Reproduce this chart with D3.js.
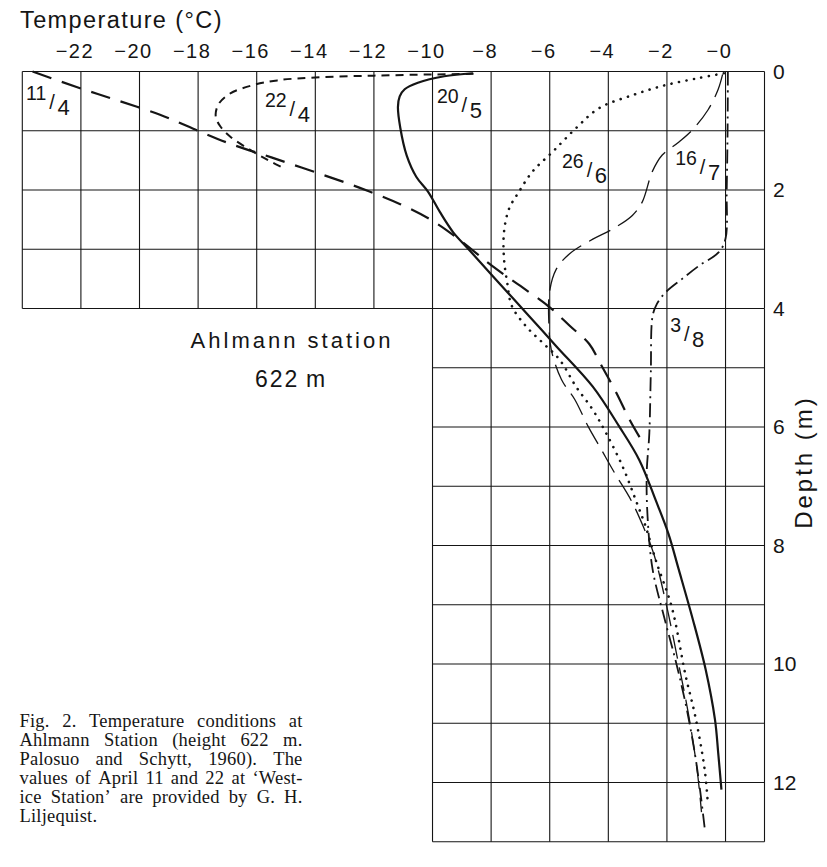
<!DOCTYPE html>
<html><head><meta charset="utf-8">
<script src="https://cdn.jsdelivr.net/npm/d3@7"></script>
<style>body{margin:0;background:#fff}svg{display:block}</style>
</head><body>
<svg id="c" width="827" height="867"></svg>
<script>
// ---------- data ----------
const tempTicks = [-22,-20,-18,-16,-14,-12,-10,-8,-6,-4,-2,0];
const tempTickLabels = ["\u221222","\u221220","\u221218","\u221216","\u221214","\u221212","\u221210","\u22128","\u22126","\u22124","\u22122","\u22120"];
const depthTicks = [0,2,4,6,8,10,12];
const upperDepthLines = [0,1,2,3,4];
const lowerDepthLines = [5,6,7,8,9,10,11,12,13];
const upperTempLines = [-24,-22,-20,-18,-16,-14,-12,-10,-8,-6,-4,-2,0,1.33];
const lowerTempLines = [-10,-8,-6,-4,-2,0,1.33];

// [temperature °C, depth m]
const apr11 = [[-23.65,0],[-22.1,0.27],[-20.8,0.48],[-19.3,0.73],[-18.1,0.98],[-16.9,1.22],[-15.5,1.45],[-14.0,1.7],[-12.5,1.96],[-11.1,2.24],[-10.0,2.52],[-9.0,2.87],[-8.0,3.27],[-7.0,3.62],[-6.0,3.98],[-5.3,4.3],[-4.65,4.6],[-4.25,4.95],[-3.75,5.4],[-3.25,5.9],[-2.9,6.2]];
const apr22 = [[-8.6,0.04],[-10,0.05],[-12,0.07],[-14,0.1],[-15.3,0.15],[-16.2,0.24],[-16.9,0.37],[-17.3,0.55],[-17.4,0.75],[-17.25,0.92],[-16.9,1.1],[-16.2,1.33],[-15.6,1.5],[-15.0,1.65]];
const may20 = [[-8.62,0.03],[-9.6,0.08],[-10.5,0.19],[-10.95,0.3],[-11.12,0.42],[-11.18,0.6],[-11.1,0.95],[-10.88,1.42],[-10.55,1.78],[-10.15,2.03],[-9.75,2.37],[-9.3,2.71],[-8.77,3.0],[-7.84,3.51],[-6.7,4.13],[-5.77,4.64],[-4.53,5.32],[-3.63,5.99],[-2.94,6.56],[-2.38,7.24],[-1.95,7.8],[-1.6,8.4],[-1.12,9.24],[-0.68,10.09],[-0.36,10.94],[-0.25,11.5],[-0.14,12.12]];
const jun26 = [[-0.06,0.03],[-0.91,0.11],[-2.05,0.23],[-3.18,0.4],[-4.32,0.62],[-5.11,0.96],[-5.91,1.36],[-6.59,1.69],[-7.05,2.03],[-7.39,2.32],[-7.56,2.71],[-7.56,3.16],[-7.44,3.6],[-7.3,3.95],[-6.81,4.3],[-6.24,4.58],[-5.67,4.86],[-5.1,5.32],[-4.53,5.71],[-4.08,6.1],[-3.51,6.67],[-3.06,7.24],[-2.72,7.69],[-2.38,8.25],[-1.83,9.05],[-1.37,10.18],[-1.03,10.89],[-0.71,11.79],[-0.6,12.38]];
const jul16 = [[-0.1,0.05],[-0.25,0.3],[-0.6,0.65],[-1.14,0.99],[-1.59,1.19],[-2.16,1.41],[-2.5,1.69],[-2.84,2.2],[-3.18,2.43],[-3.86,2.66],[-4.53,2.83],[-5.33,3.08],[-5.78,3.34],[-6.01,3.73],[-6.03,4.24],[-5.95,4.69],[-5.6,5.2],[-5.14,5.54],[-4.69,5.99],[-4.24,6.38],[-3.78,6.78],[-3.22,7.24],[-2.8,7.69],[-2.45,8.14],[-2.02,9.0],[-1.63,9.93],[-1.26,10.86],[-0.97,11.79],[-0.82,12.5]];
const aug3 = [[0.08,0],[0.07,1.0],[0.04,2.0],[0.0,2.82],[-0.23,3.05],[-0.91,3.28],[-1.48,3.5],[-2.05,3.73],[-2.35,3.93],[-2.49,4.13],[-2.55,5.09],[-2.6,6.1],[-2.69,6.78],[-2.66,7.52],[-2.49,8.4],[-2.1,9.2],[-1.7,9.95],[-1.35,10.7],[-1.05,11.5],[-0.85,12.2],[-0.7,12.82]];

const labelNum = ["11","22","20","26","16","3"];
const labelDen = ["4","4","5","6","7","8"];
const labelTemp = [-23.87,-15.72,-9.85,-5.58,-1.72,-1.89];
const labelDepth = [0.48,0.6,0.53,1.63,1.58,4.4];

const captionLines = [
  "Fig. 2. Temperature conditions at",
  "Ahlmann Station (height 622 m.",
  "Palosuo and Schytt, 1960). The",
  "values of April 11 and 22 at \u2018West-",
  "ice Station\u2019 are provided by G. H.",
  "Liljequist."
];

// ---------- drawing ----------
const svg = d3.select("#c");
svg.append("rect").attr("width",827).attr("height",867).attr("fill","#fff");

const x = d3.scaleLinear().domain([-24, 1.33]).range([22.3, 764.5]);
const y = d3.scaleLinear().domain([0, 13]).range([71.5, 841.7]);
const ink = "#151515";
const sans = "'Liberation Sans', Arial, Helvetica, sans-serif";

const grid = svg.append("g").attr("stroke", ink).attr("stroke-width", 1.1).attr("fill","none");
grid.selectAll(".uv").data(upperTempLines).join("line")
  .attr("x1", d=>x(d)).attr("x2", d=>x(d)).attr("y1", y(0)).attr("y2", y(4));
grid.selectAll(".lv").data(lowerTempLines).join("line")
  .attr("x1", d=>x(d)).attr("x2", d=>x(d)).attr("y1", y(4)).attr("y2", y(13));
grid.selectAll(".uh").data(upperDepthLines).join("line")
  .attr("x1", x(-24)).attr("x2", x(1.33)).attr("y1", d=>y(d)).attr("y2", d=>y(d));
grid.selectAll(".lh").data(lowerDepthLines).join("line")
  .attr("x1", x(-10)).attr("x2", x(1.33)).attr("y1", d=>y(d)).attr("y2", d=>y(d));

// top axis
const topAxis = d3.axisTop(x).tickValues(tempTicks)
  .tickFormat((d,i)=>tempTickLabels[i]).tickSize(0).tickPadding(13.5);
const gTop = svg.append("g").attr("transform", `translate(0,${y(0)})`).call(topAxis);
gTop.select(".domain").remove();
gTop.selectAll("text").attr("font-family", sans).attr("font-size", 20)
  .attr("fill", ink).attr("dy", 0).attr("dx", -6.5).style("letter-spacing","1.5px");

// right axis
const rightAxis = d3.axisRight(y).tickValues(depthTicks).tickSize(0).tickPadding(8.5);
const gRight = svg.append("g").attr("transform", `translate(${x(1.33)},0)`).call(rightAxis);
gRight.select(".domain").remove();
gRight.selectAll("text").attr("font-family", sans).attr("font-size", 21).attr("fill", ink);

// titles
svg.append("text").attr("x", 20).attr("y", 28).attr("font-family", sans)
  .attr("font-size", 23.5).attr("fill", ink).style("letter-spacing","1.4px")
  .text("Temperature (\u00B0C)");
svg.append("text").attr("transform","translate(812,462) rotate(-90)")
  .attr("text-anchor","middle").attr("font-family", sans).attr("font-size", 24)
  .attr("fill", ink).style("letter-spacing","3px").text("Depth (m)");
svg.append("text").attr("x", 292).attr("y", 347.5).attr("text-anchor","middle")
  .attr("font-family", sans).attr("font-size", 22).attr("fill", ink)
  .style("letter-spacing","3px").text("Ahlmann station");
svg.append("text").attr("x", 291).attr("y", 386.7).attr("text-anchor","middle")
  .attr("font-family", sans).attr("font-size", 23).attr("fill", ink)
  .style("letter-spacing","2px").text("622\u2009m");

// curves
const line = d3.line().x(d=>x(d[0])).y(d=>y(d[1])).curve(d3.curveCatmullRom.alpha(0.5));
const series = [
  {data: apr11, w: 2.2, dash: "20,11", cap: "butt"},
  {data: apr22, w: 2.0, dash: "8,6", cap: "butt"},
  {data: may20, w: 2.2, dash: null, cap: "butt"},
  {data: jun26, w: 2.6, dash: "0.1,7.5", cap: "round"},
  {data: jul16, w: 1.3, dash: "24,9", cap: "butt"},
  {data: aug3, w: 1.8, dash: "14,5,2,5", cap: "butt"}
];
svg.append("g").selectAll("path").data(series).join("path")
  .attr("d", s=>line(s.data)).attr("fill","none").attr("stroke", ink)
  .attr("stroke-width", s=>s.w).attr("stroke-dasharray", s=>s.dash)
  .attr("stroke-linecap", s=>s.cap);

// date labels
const lab = svg.append("g").attr("font-family", sans).attr("fill", ink);
labelNum.forEach((n,i)=>{
  const t = lab.append("text").attr("x", x(labelTemp[i])).attr("y", y(labelDepth[i]));
  t.append("tspan").attr("font-size", 19.5).text(n);
  t.append("tspan").attr("font-size", 20).attr("dx", 3).attr("dy", 9).text("/");
  t.append("tspan").attr("font-size", 22).attr("dx", 2.5).attr("dy", 6).text(labelDen[i]);
});

// caption (justified)
const cap = svg.append("g").attr("font-family","'Liberation Serif','Times New Roman',serif")
  .attr("font-size", 18.5).attr("fill", ink).style("letter-spacing","0.2px");
const capX0 = 19.5, capX1 = 302.5;
captionLines.forEach((ln,i)=>{
  const by = 727 + i*19;
  const words = ln.split(" ");
  if (i === captionLines.length-1) {
    cap.append("text").attr("x", capX0).attr("y", by).text(ln);
    return;
  }
  const widths = words.map(w=>{
    const tt = cap.append("text").text(w);
    const wd = tt.node().getComputedTextLength();
    tt.remove();
    return wd;
  });
  const total = d3.sum(widths);
  const gap = (capX1 - capX0 - total) / (words.length - 1);
  let cx = capX0;
  words.forEach((w,j)=>{
    cap.append("text").attr("x", cx).attr("y", by).text(w);
    cx += widths[j] + gap;
  });
});
</script>
</body></html>
